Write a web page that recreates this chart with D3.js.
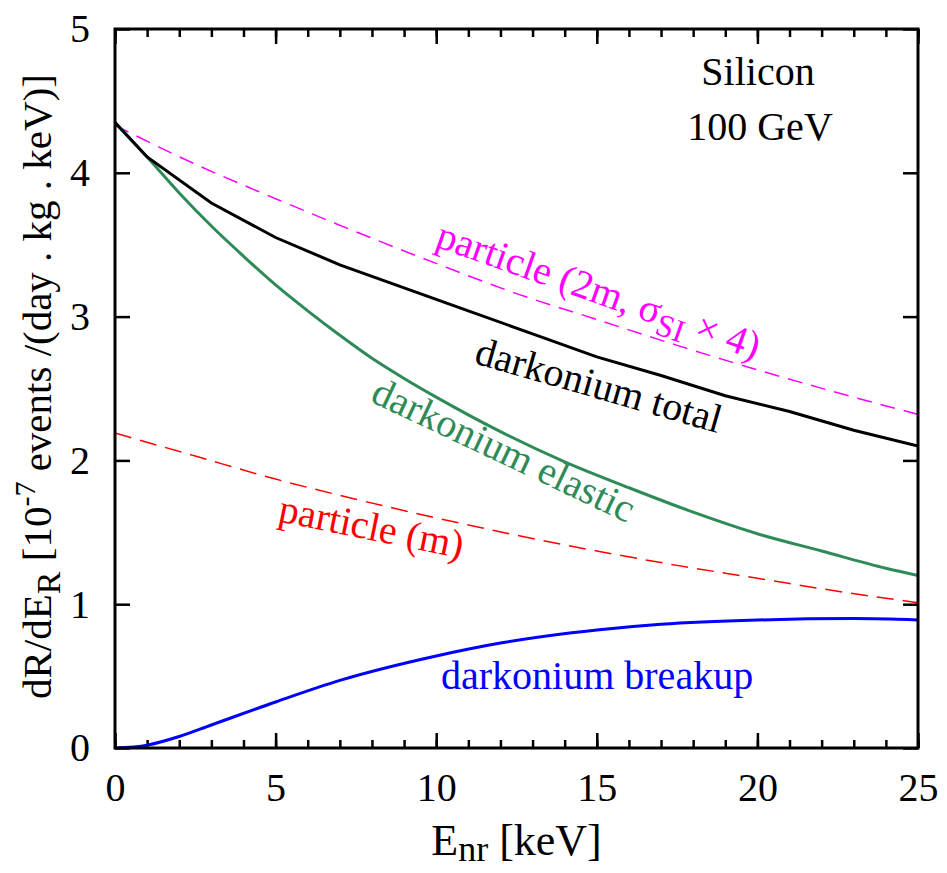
<!DOCTYPE html>
<html>
<head>
<meta charset="utf-8">
<script src="https://cdn.jsdelivr.net/npm/d3@7"></script>
<style>
  body { margin: 0; background: #fff; }
  svg { font-family: "Liberation Serif", "Times New Roman", serif; }
</style>
</head>
<body>
<svg id="chart" width="947" height="873"></svg>
<script>
const width = 947;
const height = 873;
const margin = { top: 29, right: 29, bottom: 125, left: 115 };
const w = width - margin.left - margin.right;
const h = height - margin.top - margin.bottom;

// data
const totalE = [0, 1, 3, 5, 7, 9, 11, 13, 15, 17, 19, 21, 23, 25];
const totalR = [4.35, 4.11, 3.79, 3.55, 3.36, 3.20, 3.04, 2.88, 2.72, 2.59, 2.45, 2.34, 2.21, 2.10];

const elasticE = [0, 1, 2, 3, 4, 5, 6, 7, 8, 9, 10, 12, 14, 16, 18, 20, 22, 24, 25];
const elasticR = [4.35, 4.11, 3.86, 3.63, 3.42, 3.22, 3.04, 2.87, 2.71, 2.57, 2.44, 2.20, 1.99, 1.81, 1.64, 1.49, 1.37, 1.25, 1.20];

const breakupE = [0, 1, 2, 3, 5, 7, 10, 12, 15, 17, 20, 23, 25];
const breakupR = [0, 0.02, 0.08, 0.16, 0.32, 0.47, 0.64, 0.73, 0.82, 0.86, 0.89, 0.90, 0.89];

const particleE = [0, 2.5, 5, 7.5, 10, 12.5, 15, 17.5, 20, 22.5, 25];
const particleR = [2.19, 2.03, 1.87, 1.73, 1.60, 1.48, 1.37, 1.27, 1.18, 1.09, 1.01];
const particle2mR = [4.33, 4.06, 3.82, 3.59, 3.37, 3.16, 2.98, 2.80, 2.63, 2.47, 2.32];

const xMajor = [0, 5, 10, 15, 20, 25];
const xMinor = d3.range(0, 26);
const yMajor = [0, 1, 2, 3, 4, 5];

const svg = d3.select("#chart");
const g = svg.append("g").attr("transform", `translate(${margin.left},${margin.top})`);

const x = d3.scaleLinear().domain([0, 25]).range([0, w]);
const y = d3.scaleLinear().domain([0, 5]).range([h, 0]);

svg.append("defs").append("clipPath").attr("id", "clip")
  .append("rect").attr("width", w).attr("height", h);

function styleAxis(sel) {
  sel.select(".domain").remove();
  sel.selectAll("line").attr("stroke", "#000").attr("stroke-width", 2.5);
  sel.selectAll("text").attr("fill", "#000").style("font-size", "40px")
    .style("font-family", "'Liberation Serif', 'Times New Roman', serif");
}

// minor ticks bottom / top
g.append("g").attr("transform", `translate(0,${h})`)
  .call(d3.axisBottom(x).tickValues(xMinor).tickSize(-8).tickFormat(""))
  .call(styleAxis);
g.append("g")
  .call(d3.axisTop(x).tickValues(xMinor).tickSize(-8).tickFormat(""))
  .call(styleAxis);
// major ticks
g.append("g").attr("transform", `translate(0,${h})`)
  .call(d3.axisBottom(x).tickValues(xMajor).tickSize(-15).tickPadding(25).tickFormat(d3.format("d")))
  .call(styleAxis);
g.append("g")
  .call(d3.axisTop(x).tickValues(xMajor).tickSize(-15).tickFormat(""))
  .call(styleAxis);
g.append("g")
  .call(d3.axisLeft(y).tickValues(yMajor).tickSize(-15).tickPadding(25).tickFormat(d3.format("d")))
  .call(styleAxis);
g.append("g").attr("transform", `translate(${w},0)`)
  .call(d3.axisRight(y).tickValues(yMajor).tickSize(-15).tickFormat(""))
  .call(styleAxis);

// curves
const plot = g.append("g").attr("clip-path", "url(#clip)");
function drawLine(xs, ys, color, sw, dash, curve) {
  const pts = xs.map((d, i) => [d, ys[i]]);
  plot.append("path")
    .datum(pts)
    .attr("fill", "none")
    .attr("stroke", color)
    .attr("stroke-width", sw)
    .attr("stroke-dasharray", dash)
    .attr("d", d3.line().x(d => x(d[0])).y(d => y(d[1])).curve(curve));
}
drawLine(particleE, particleR, "#ff0000", 1.5, "17,9", d3.curveMonotoneX);
drawLine(particleE, particle2mR, "#ff00ff", 1.5, "15,9", d3.curveMonotoneX);
drawLine(elasticE, elasticR, "#2e8b57", 3, null, d3.curveMonotoneX);
drawLine(totalE, totalR, "#000000", 3, null, d3.curveLinear);
drawLine(breakupE, breakupR, "#0000ff", 3, null, d3.curveMonotoneX);

// frame
g.append("rect").attr("width", w).attr("height", h)
  .attr("fill", "none").attr("stroke", "#000").attr("stroke-width", 3);

// labels in plot
function label(tx, ty, rot, color, anchor) {
  return svg.append("text")
    .attr("transform", `translate(${tx},${ty}) rotate(${rot})`)
    .attr("text-anchor", anchor || "start")
    .attr("fill", color)
    .style("font-size", "40px");
}
label(758, 85, 0, "#000", "middle").text("Silicon");
label(760, 140, 0, "#000", "middle").text("100 GeV");

const pm = label(434, 246, 19.5, "#ff00ff");
pm.append("tspan").text("particle (2m, σ");
pm.append("tspan").attr("dy", 9).style("font-size", "32px").text("SI");
pm.append("tspan").attr("dy", -9).text(" × 4)");

label(473, 363, 16, "#000").text("darkonium total");
label(369, 401, 25.3, "#2e8b57").text("darkonium elastic");
label(277, 521, 11.5, "#ff0000").text("particle (m)");
label(441, 689, 0, "#0000ff").text("darkonium breakup");

// axis titles
const xt = svg.append("text")
  .attr("x", margin.left + w / 2).attr("y", 855)
  .attr("text-anchor", "middle").style("font-size", "44px").attr("fill", "#000");
xt.append("tspan").text("E");
xt.append("tspan").attr("dy", 6).style("font-size", "36px").text("nr");
xt.append("tspan").attr("dy", -6).text(" [keV]");

const yt = svg.append("text")
  .attr("transform", `translate(51,${margin.top + h / 2 - 2}) rotate(-90)`)
  .attr("text-anchor", "middle").style("font-size", "41px").attr("fill", "#000");
yt.append("tspan").text("dR/dE");
yt.append("tspan").attr("dy", 9).style("font-size", "34px").text("R");
yt.append("tspan").attr("dy", -9).text(" [10");
yt.append("tspan").attr("dy", -16).style("font-size", "30px").text("-7");
yt.append("tspan").attr("dy", 16).text(" events /(day . kg . keV)]");
</script>
</body>
</html>
